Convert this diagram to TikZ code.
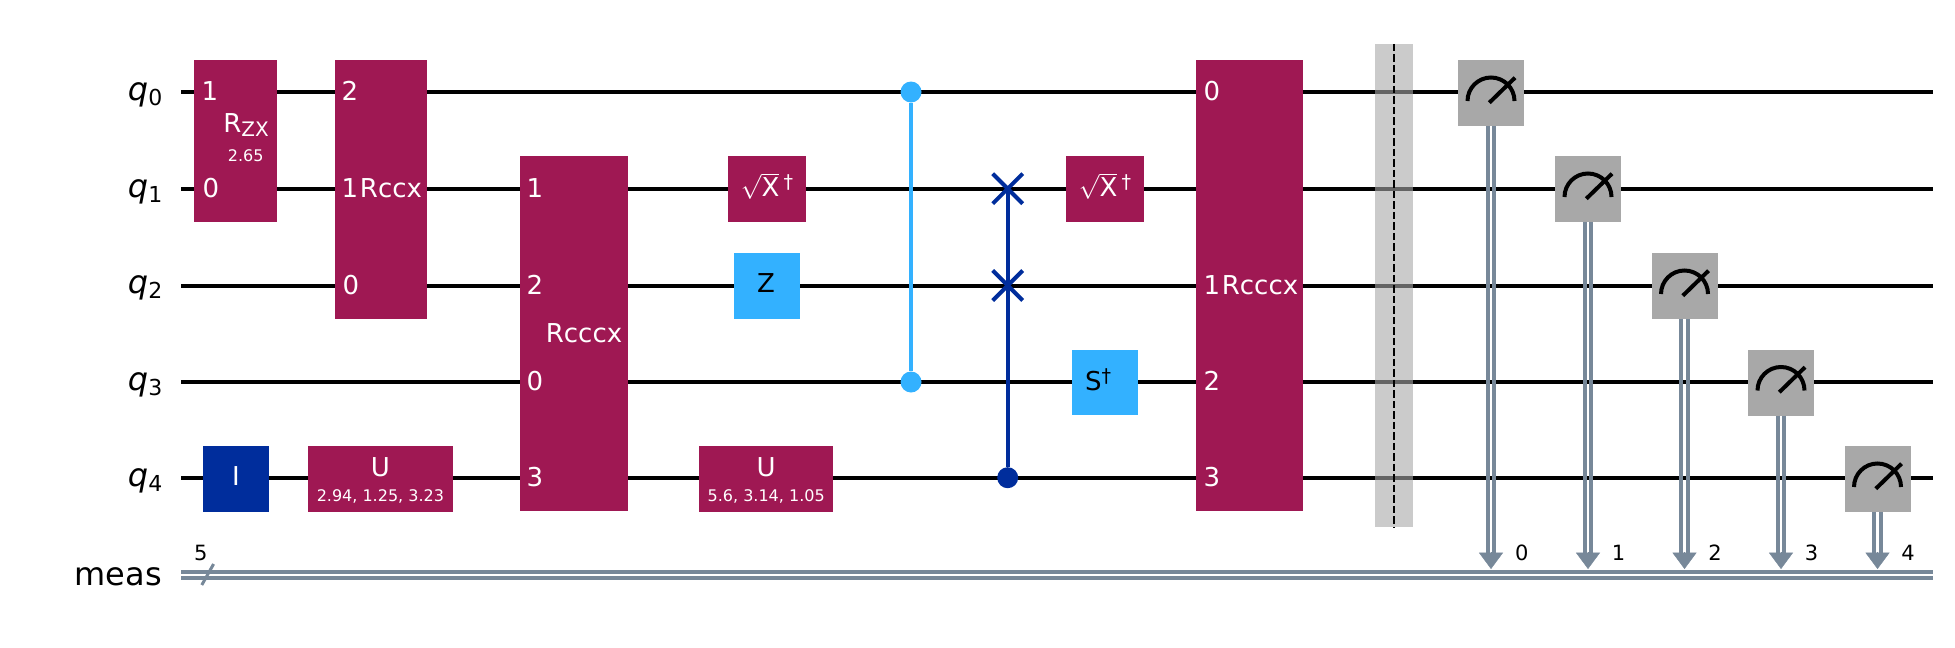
\documentclass[tikz,border=0pt]{standalone}
\usepackage{fontspec}
\setmainfont{DejaVu Sans}
\usetikzlibrary{arrows.meta}
\definecolor{gatePurple}{HTML}{9F1853}
\definecolor{gateBlue}{HTML}{002D9C}
\definecolor{gateSky}{HTML}{33B1FF}
\definecolor{gateGrey}{HTML}{A8A8A8}
\definecolor{clbitGrey}{HTML}{778899}
\newcommand{\qubitName}[1]{\textit{q}\raisebox{-5pt}{\fontsize{22}{26}\selectfont #1}}
\newcommand{\daggerMark}{\raisebox{8pt}{\fontsize{19}{22}\selectfont †}}
\newcommand{\sqrtDag}{$\sqrt{\hbox{X}}$\,\daggerMark}
\tikzset{
  wire/.style={line width=4pt, black},
  clbit/.style={line width=3.7pt, clbitGrey},
  clhead/.style={clbitGrey, -{Triangle[width=24pt,length=16.3pt]}},
  gate/.style={rectangle, inner sep=0pt, fill=#1},
  gatetxt/.style={inner sep=0pt, text=white, font=\fontsize{26}{30}\selectfont},
  gatesub/.style={inner sep=0pt, text=white, font=\fontsize{16}{20}\selectfont},
  wirename/.style={inner sep=0pt, anchor=base east, font=\fontsize{32}{38}\selectfont},
  bitnum/.style={inner sep=0pt, font=\fontsize{21}{26}\selectfont},
  ctrldot/.style={circle, inner sep=0pt, minimum size=21pt, fill=#1},
  meter/.style={gate=gateGrey, minimum width=66pt, minimum height=66pt},
  swapleg/.style={line width=4pt, gateBlue},
  needle/.style={line width=4pt, black}
}
\begin{document}
\begin{tikzpicture}[x=1pt, y=-1pt]
\useasboundingbox (0,0) rectangle (1955,648);
% Wire ends
\coordinate (q0L) at (181.4,92);
\coordinate (q0R) at (1933,92);
\coordinate (q1L) at (181.4,188.7);
\coordinate (q1R) at (1933,188.7);
\coordinate (q2L) at (181.4,285.5);
\coordinate (q2R) at (1933,285.5);
\coordinate (q3L) at (181.4,382);
\coordinate (q3R) at (1933,382);
\coordinate (q4L) at (181.4,477.7);
\coordinate (q4R) at (1933,477.7);
\coordinate (cUL) at (181.4,571.8);
\coordinate (cUR) at (1933,571.8);
\coordinate (cLL) at (181.4,577.8);
\coordinate (cLR) at (1933,577.8);
% Wire labels
\node[wirename] (nameq0) at (162.5,100) {\qubitName{0}};
\node[wirename] (nameq1) at (162.5,197) {\qubitName{1}};
\node[wirename] (nameq2) at (162.5,293.5) {\qubitName{2}};
\node[wirename] (nameq3) at (162.5,390) {\qubitName{3}};
\node[wirename] (nameq4) at (162.5,486) {\qubitName{4}};
\node[wirename] (namemeas) at (162,585) {meas};
% Wires
\draw[wire] (q0L) -- (q0R);
\draw[wire] (q1L) -- (q1R);
\draw[wire] (q2L) -- (q2R);
\draw[wire] (q3L) -- (q3R);
\draw[wire] (q4L) -- (q4R);
\draw[clbit] (cUL) -- (cUR);
\draw[clbit] (cLL) -- (cLR);
% Register width
\coordinate (slashA) at (201.8,585);
\coordinate (slashB) at (213.6,564);
\draw[line width=3pt, clbitGrey] (slashA) -- (slashB);
\node[bitnum] (regsize) at (200.7,553) {5};
% Two qubit rotation
\node[gate=gatePurple, minimum width=83pt, minimum height=161.7pt] (rzx) at (235.5,140.8) {};
\node[gatetxt] (rzxA) at (210,91) {1};
\node[gatetxt] (rzxB) at (211,188) {0};
\node[gatetxt] (rzxT) at (246,125) {R\raisebox{-3.5pt}{\fontsize{20}{24}\selectfont ZX}};
\node[gatesub] (rzxP) at (245.7,156) {2.65};
% Rccx
\node[gate=gatePurple, minimum width=92pt, minimum height=259pt] (rccx) at (381,189.5) {};
\node[gatetxt] (rccxA) at (350,91) {2};
\node[gatetxt] (rccxB) at (350,188) {1};
\node[gatetxt] (rccxD) at (351,285) {0};
\node[gatetxt] (rccxT) at (391,188) {Rccx};
% First Rcccx
\node[gate=gatePurple, minimum width=108pt, minimum height=355.5pt] (rcccxa) at (574,333.7) {};
\node[gatetxt] (rcccxaA) at (535,188) {1};
\node[gatetxt] (rcccxaB) at (535,285) {2};
\node[gatetxt] (rcccxaC) at (535,381) {0};
\node[gatetxt] (rcccxaD) at (535,477) {3};
\node[gatetxt] (rcccxaT) at (584,333) {Rcccx};
% Single qubit gates
\node[gate=gateBlue, minimum width=65.7pt, minimum height=65.7pt] (idgate) at (235.7,478.8) {};
\node[gatetxt] (idtxt) at (236,476) {I};
\node[gate=gatePurple, minimum width=145pt, minimum height=65.7pt] (ua) at (380.4,478.8) {};
\node[gatetxt] (uaT) at (380.4,467) {U};
\node[gatesub] (uaP) at (380.4,496) {2.94, 1.25, 3.23};
\node[gate=gatePurple, minimum width=78pt, minimum height=65.7pt] (sxa) at (767,188.8) {};
\node[gatetxt] (sxaT) at (767,186) {\sqrtDag};
\node[gate=gateSky, minimum width=66pt, minimum height=65.7pt] (zgate) at (767,285.8) {};
\node[gatetxt, text=black] (ztxt) at (766,283) {Z};
\node[gate=gatePurple, minimum width=133.5pt, minimum height=65.7pt] (ub) at (766.2,478.8) {};
\node[gatetxt] (ubT) at (766.2,467) {U};
\node[gatesub] (ubP) at (766.2,496) {5.6, 3.14, 1.05};
% Controlled Z
\node[ctrldot=gateSky] (czA) at (911,92) {};
\node[ctrldot=gateSky] (czB) at (911,382) {};
\draw[line width=3.7pt, gateSky] (czA) -- (czB);
% Controlled swap
\node[ctrldot=gateBlue] (csC) at (1007.7,477.7) {};
\coordinate (swA) at (1007.7,188.7);
\coordinate (swB) at (1007.7,285.5);
\draw[swapleg] (swA) -- (csC);
\draw[swapleg] ([xshift=-15pt,yshift=15pt]swA) -- ([xshift=15pt,yshift=-15pt]swA);
\draw[swapleg] ([xshift=-15pt,yshift=-15pt]swA) -- ([xshift=15pt,yshift=15pt]swA);
\draw[swapleg] ([xshift=-15pt,yshift=15pt]swB) -- ([xshift=15pt,yshift=-15pt]swB);
\draw[swapleg] ([xshift=-15pt,yshift=-15pt]swB) -- ([xshift=15pt,yshift=15pt]swB);
% Gates behind the swap
\node[gate=gatePurple, minimum width=78pt, minimum height=65.7pt] (sxb) at (1105,188.8) {};
\node[gatetxt] (sxbT) at (1105,186) {\sqrtDag};
\node[gate=gateSky, minimum width=66pt, minimum height=65.7pt] (sdg) at (1105,382.5) {};
\node[gatetxt, text=black] (sdgT) at (1098,380) {S\daggerMark};
% Second Rcccx
\node[gate=gatePurple, minimum width=107.3pt, minimum height=451.5pt] (rcccxb) at (1249.3,285.7) {};
\node[gatetxt] (rcccxbA) at (1212,91) {0};
\node[gatetxt] (rcccxbB) at (1212,285) {1};
\node[gatetxt] (rcccxbC) at (1212,381) {2};
\node[gatetxt] (rcccxbD) at (1212,477) {3};
\node[gatetxt] (rcccxbT) at (1260,285) {Rcccx};
% Barrier
\node[gate=gateGrey, fill opacity=0.6, minimum width=37.7pt, minimum height=483pt] (barrier) at (1393.8,285.5) {};
\draw[line width=2pt, black, dash pattern=on 7.5pt off 3pt] (barrier.north) -- (barrier.south);
% Measures
\node[meter] (m0) at (1491,93) {};
\node[meter] (m1) at (1588,189) {};
\node[meter] (m2) at (1684.5,286) {};
\node[meter] (m3) at (1781,382.5) {};
\node[meter] (m4) at (1877.5,479) {};
\draw[needle] ([xshift=-23.5pt,yshift=-8pt]m0.center) arc[start angle=180, end angle=0, radius=23.5pt];
\draw[needle] ([xshift=-1.7pt,yshift=-9.7pt]m0.center) -- ([xshift=24pt,yshift=15.3pt]m0.center);
\draw[needle] ([xshift=-23.5pt,yshift=-8pt]m1.center) arc[start angle=180, end angle=0, radius=23.5pt];
\draw[needle] ([xshift=-1.7pt,yshift=-9.7pt]m1.center) -- ([xshift=24pt,yshift=15.3pt]m1.center);
\draw[needle] ([xshift=-23.5pt,yshift=-8pt]m2.center) arc[start angle=180, end angle=0, radius=23.5pt];
\draw[needle] ([xshift=-1.7pt,yshift=-9.7pt]m2.center) -- ([xshift=24pt,yshift=15.3pt]m2.center);
\draw[needle] ([xshift=-23.5pt,yshift=-8pt]m3.center) arc[start angle=180, end angle=0, radius=23.5pt];
\draw[needle] ([xshift=-1.7pt,yshift=-9.7pt]m3.center) -- ([xshift=24pt,yshift=15.3pt]m3.center);
\draw[needle] ([xshift=-23.5pt,yshift=-8pt]m4.center) arc[start angle=180, end angle=0, radius=23.5pt];
\draw[needle] ([xshift=-1.7pt,yshift=-9.7pt]m4.center) -- ([xshift=24pt,yshift=15.3pt]m4.center);
% Measure lines down to the register
\coordinate (c0) at (1491,569);
\coordinate (c1) at (1588,569);
\coordinate (c2) at (1684.5,569);
\coordinate (c3) at (1781,569);
\coordinate (c4) at (1877.5,569);
\draw[clbit] ([xshift=-3.2pt]m0.south) -- ([xshift=-3.2pt,yshift=14pt]c0);
\draw[clbit] ([xshift=3.2pt]m0.south) -- ([xshift=3.2pt,yshift=14pt]c0);
\draw[clhead] ([yshift=17pt]c0) -- (c0);
\draw[clbit] ([xshift=-3.2pt]m1.south) -- ([xshift=-3.2pt,yshift=14pt]c1);
\draw[clbit] ([xshift=3.2pt]m1.south) -- ([xshift=3.2pt,yshift=14pt]c1);
\draw[clhead] ([yshift=17pt]c1) -- (c1);
\draw[clbit] ([xshift=-3.2pt]m2.south) -- ([xshift=-3.2pt,yshift=14pt]c2);
\draw[clbit] ([xshift=3.2pt]m2.south) -- ([xshift=3.2pt,yshift=14pt]c2);
\draw[clhead] ([yshift=17pt]c2) -- (c2);
\draw[clbit] ([xshift=-3.2pt]m3.south) -- ([xshift=-3.2pt,yshift=14pt]c3);
\draw[clbit] ([xshift=3.2pt]m3.south) -- ([xshift=3.2pt,yshift=14pt]c3);
\draw[clhead] ([yshift=17pt]c3) -- (c3);
\draw[clbit] ([xshift=-3.2pt]m4.south) -- ([xshift=-3.2pt,yshift=14pt]c4);
\draw[clbit] ([xshift=3.2pt]m4.south) -- ([xshift=3.2pt,yshift=14pt]c4);
\draw[clhead] ([yshift=17pt]c4) -- (c4);
% Register bit numbers
\node[bitnum] (bit0) at (1521.7,553) {0};
\node[bitnum] (bit1) at (1618.5,553) {1};
\node[bitnum] (bit2) at (1715,553) {2};
\node[bitnum] (bit3) at (1811.5,553) {3};
\node[bitnum] (bit4) at (1908,553) {4};
\end{tikzpicture}
\end{document}
